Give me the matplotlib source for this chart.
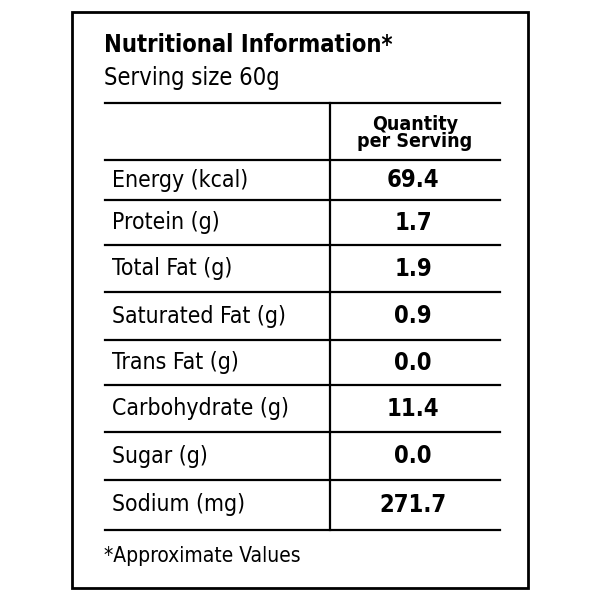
import matplotlib
matplotlib.use("Agg")
import matplotlib.pyplot as plt

title = "Nutritional Information*"
serving = "Serving size 60g"
header = "Quantity\nper Serving"
nutrients = ["Energy (kcal)", "Protein (g)", "Total Fat (g)", "Saturated Fat (g)",
             "Trans Fat (g)", "Carbohydrate (g)", "Sugar (g)", "Sodium (mg)"]
values = ["69.4", "1.7", "1.9", "0.9", "0.0", "11.4", "0.0", "271.7"]
footnote = "*Approximate Values"

fam = ["DejaVu Sans"]
st = "condensed"
fig = plt.figure(figsize=(6, 6), dpi=100)
ax = fig.add_axes([0, 0, 1, 1])
ax.set_xlim(0, 600); ax.set_ylim(600, 0); ax.axis("off")

ax.add_patch(plt.Rectangle((72, 12), 456, 576, fill=False, lw=2, color="black"))
ax.text(104, 45, title, fontsize=17, fontweight="bold", family=fam, fontstretch=st, va="center")
ax.text(104, 78, serving, fontsize=17, family=fam, fontstretch=st, va="center")

lines = [103, 160, 200, 245, 292, 340, 385, 432, 480, 530]
for y in lines:
    ax.plot([105, 500], [y, y], color="black", lw=1.6)
ax.plot([330, 330], [103, 530], color="black", lw=1.6)
ax.text(415, 133, header, fontsize=14, fontweight="bold", family=fam, fontstretch=st,
        ha="center", va="center", linespacing=0.9)

for i, (n, v) in enumerate(zip(nutrients, values)):
    yc = (lines[i + 1] + lines[i + 2]) / 2
    ax.text(112, yc, n, fontsize=16.5, family=fam, fontstretch=st, va="center")
    ax.text(413, yc, v, fontsize=17, fontweight="bold", family=fam, fontstretch=st,
            ha="center", va="center")

ax.text(104, 556, footnote, fontsize=15, family=fam, fontstretch=st, va="center")
fig.savefig("out.png", dpi=100, facecolor="white")
